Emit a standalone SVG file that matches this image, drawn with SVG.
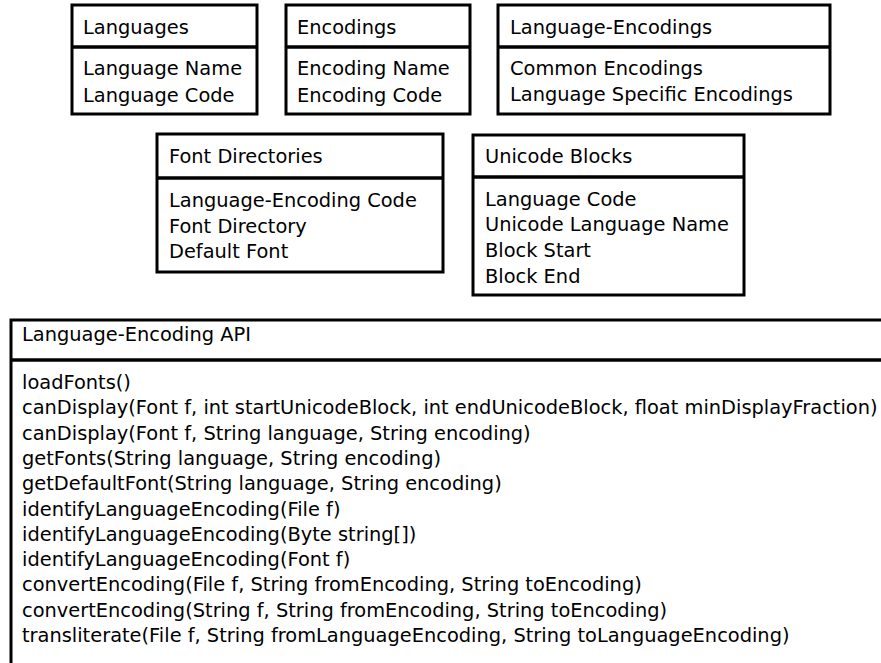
<svg xmlns="http://www.w3.org/2000/svg" width="881" height="663" viewBox="0 0 881 663">
<style>
.box{fill:#fff;stroke:#000;stroke-width:3}
.div{stroke:#000;stroke-width:3.5}
text{font-family:"DejaVu Sans","Liberation Sans",sans-serif;font-size:19.4px;fill:#000}
</style>
<rect width="881" height="663" fill="#fff"/>
<g id="languages">
<rect class="box" x="72" y="5" width="185" height="109"/>
<line class="div" x1="72" y1="47" x2="257" y2="47"/>
<text x="83" y="34">Languages</text>
<text x="83" y="75">Language Name</text>
<text x="83" y="102">Language Code</text>
</g>
<g id="encodings">
<rect class="box" x="286" y="5" width="184" height="109"/>
<line class="div" x1="286" y1="47" x2="470" y2="47"/>
<text x="297" y="34">Encodings</text>
<text x="297" y="75">Encoding Name</text>
<text x="297" y="102">Encoding Code</text>
</g>
<g id="language-encodings">
<rect class="box" x="498" y="5" width="332" height="109"/>
<line class="div" x1="498" y1="47" x2="830" y2="47"/>
<text x="510" y="34">Language-Encodings</text>
<text x="510" y="75">Common Encodings</text>
<text x="510" y="101">Language Specific Encodings</text>
</g>
<g id="font-directories">
<rect class="box" x="157" y="134" width="286" height="138"/>
<line class="div" x1="157" y1="178" x2="443" y2="178"/>
<text x="169" y="163">Font Directories</text>
<text x="169" y="207">Language-Encoding Code</text>
<text x="169" y="233">Font Directory</text>
<text x="169" y="258">Default Font</text>
</g>
<g id="unicode-blocks">
<rect class="box" x="473" y="135" width="271" height="160"/>
<line class="div" x1="473" y1="177" x2="744" y2="177"/>
<text x="485" y="163">Unicode Blocks</text>
<text x="485" y="206">Language Code</text>
<text x="485" y="231">Unicode Language Name</text>
<text x="485" y="257">Block Start</text>
<text x="485" y="283">Block End</text>
</g>
<g id="api">
<rect class="box" x="11" y="320" width="900" height="400"/>
<line class="div" x1="11" y1="360" x2="900" y2="360"/>
<text x="22" y="341">Language-Encoding API</text>
<text x="22" y="389">loadFonts()</text>
<text x="22" y="414">canDisplay(Font f, int startUnicodeBlock, int endUnicodeBlock, float minDisplayFraction)</text>
<text x="22" y="440">canDisplay(Font f, String language, String encoding)</text>
<text x="22" y="465">getFonts(String language, String encoding)</text>
<text x="22" y="490">getDefaultFont(String language, String encoding)</text>
<text x="22" y="516">identifyLanguageEncoding(File f)</text>
<text x="22" y="541">identifyLanguageEncoding(Byte string[])</text>
<text x="22" y="566">identifyLanguageEncoding(Font f)</text>
<text x="22" y="591">convertEncoding(File f, String fromEncoding, String toEncoding)</text>
<text x="22" y="617">convertEncoding(String f, String fromEncoding, String toEncoding)</text>
<text x="22" y="642">transliterate(File f, String fromLanguageEncoding, String toLanguageEncoding)</text>
</g>
<g id="connectors"></g>
</svg>
